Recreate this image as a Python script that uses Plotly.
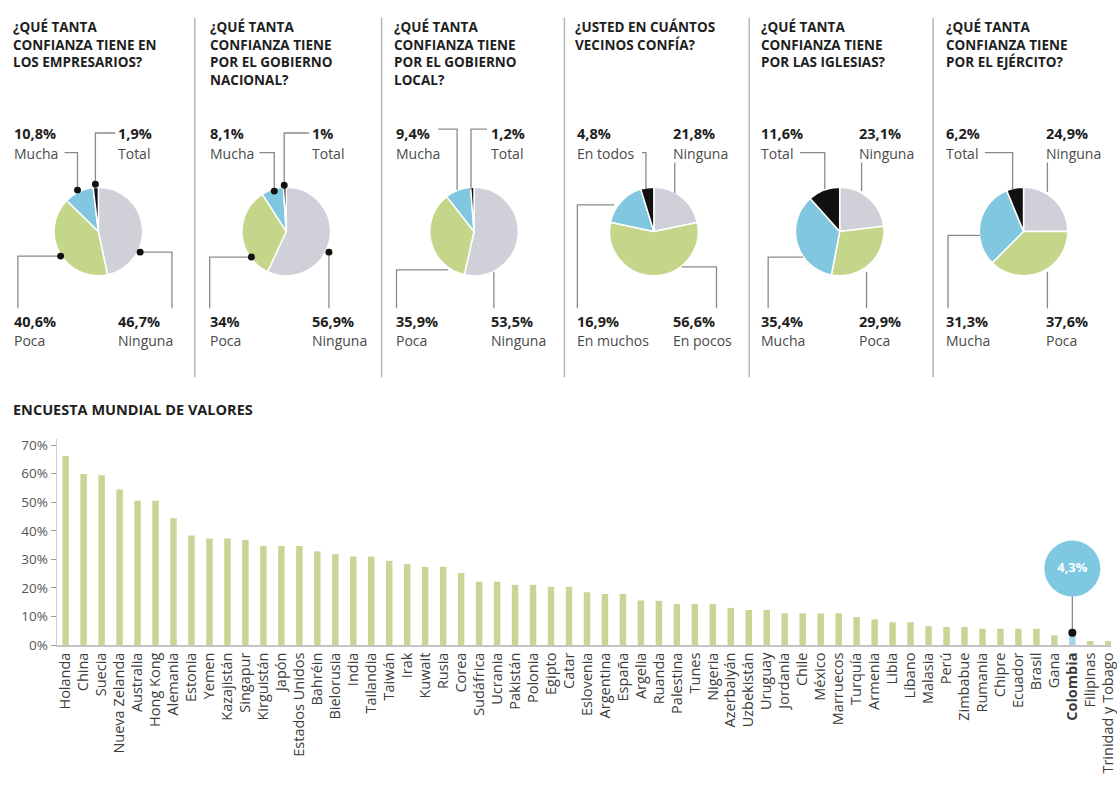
import plotly.graph_objects as go

W, H = 1117, 787

# ---------------- DATA ----------------
pie_titles = [
    ["¿QUÉ TANTA", "CONFIANZA TIENE EN", "LOS EMPRESARIOS?"],
    ["¿QUÉ TANTA", "CONFIANZA TIENE", "POR EL GOBIERNO", "NACIONAL?"],
    ["¿QUÉ TANTA", "CONFIANZA TIENE", "POR EL GOBIERNO", "LOCAL?"],
    ["¿USTED EN CUÁNTOS", "VECINOS CONFÍA?"],
    ["¿QUÉ TANTA", "CONFIANZA TIENE", "POR LAS IGLESIAS?"],
    ["¿QUÉ TANTA", "CONFIANZA TIENE", "POR EL EJÉRCITO?"],
]
confianza_labels = ["Ninguna", "Poca", "Mucha", "Total"]
vecinos_labels = ["Ninguna", "En pocos", "En muchos", "En todos"]

empresarios = [46.7, 40.6, 10.8, 1.9]
gobierno_nacional = [56.9, 34.0, 8.1, 1.0]
gobierno_local = [53.5, 35.9, 9.4, 1.2]
vecinos = [21.8, 56.6, 16.9, 4.8]
iglesias = [23.1, 29.9, 35.4, 11.6]
ejercito = [24.9, 37.6, 31.3, 6.2]

pie_values = [empresarios, gobierno_nacional, gobierno_local, vecinos, iglesias, ejercito]
pie_labels = [confianza_labels, confianza_labels, confianza_labels, vecinos_labels,
              confianza_labels, confianza_labels]

bar_title = "ENCUESTA MUNDIAL DE VALORES"
countries = ["Holanda", "China", "Suecia", "Nueva Zelanda", "Australia", "Hong Kong", "Alemania",
             "Estonia", "Yemen", "Kazajistán", "Singapur", "Kirguistán", "Japón", "Estados Unidos",
             "Bahréin", "Bielorusia", "India", "Tailandia", "Taiwán", "Irak", "Kuwait", "Rusia",
             "Corea", "Sudáfrica", "Ucrania", "Pakistán", "Polonia", "Egipto", "Catar", "Eslovenia",
             "Argentina", "España", "Argelia", "Ruanda", "Palestina", "Tunes", "Nigeria",
             "Azerbaiyán", "Uzbekistán", "Uruguay", "Jordania", "Chile", "México", "Marruecos",
             "Turquía", "Armenia", "Libia", "Líbano", "Malasia", "Perú", "Zimbabue", "Rumania",
             "Chipre", "Ecuador", "Brasil", "Gana", "Colombia", "Filipinas", "Trinidad y Tobago"]
trust_pct = [66.2, 59.9, 59.5, 54.5, 50.5, 50.5, 44.4,
             38.4, 37.3, 37.3, 36.8, 34.7, 34.7, 34.7,
             32.8, 31.8, 31.0, 31.0, 29.5, 28.4, 27.4, 27.4,
             25.2, 22.2, 22.2, 21.1, 21.1, 20.4, 20.4, 18.5,
             17.9, 17.9, 15.6, 15.5, 14.4, 14.4, 14.4,
             13.0, 12.3, 12.3, 11.1, 11.1, 11.1, 11.1,
             9.8, 9.0, 8.0, 8.0, 6.6, 6.3, 6.3, 5.7,
             5.7, 5.7, 5.7, 3.4, 4.3, 1.4, 1.4]
highlight = "Colombia"
yticks = [0, 10, 20, 30, 40, 50, 60, 70]
ytick_text = ["0%", "10%", "20%", "30%", "40%", "50%", "60%", "70%"]

# ---------------- STYLE / LAYOUT ----------------
slice_colors = ["#cfd0d8", "#c4d68a", "#82c7e0", "#111111"]
bar_color = "#c8d596"
hl_bar_color = "#a9d4e8"
bubble_color = "#7fc8e2"
FONT = "Open Sans"


def fmt(v):
    s = f"{v:.1f}".replace(".", ",")
    if s.endswith(",0"):
        s = s[:-2]
    return s + "%"


def xp(px):
    return px / W


def yp(py):
    return 1 - py / H


pie_cx = [98, 287, 476, 657, 844, 1029]
pie_cy = 232
pie_r = 45
title_x = [10, 208, 393, 576, 763, 949]
separators = [195, 383, 567, 753, 938]

# label placements: (slice index, text x, row) row 0 = top, 1 = bottom
label_specs = [
    [(2, 11, 0), (3, 116, 0), (1, 11, 1), (0, 116, 1)],
    [(2, 208, 0), (3, 311, 0), (1, 208, 1), (0, 311, 1)],
    [(2, 395, 0), (3, 491, 0), (1, 395, 1), (0, 491, 1)],
    [(3, 578, 0), (0, 674, 0), (2, 578, 1), (1, 674, 1)],
    [(3, 763, 0), (0, 861, 0), (2, 763, 1), (1, 861, 1)],
    [(3, 949, 0), (0, 1050, 0), (2, 949, 1), (1, 1050, 1)],
]
leaders = [
    [[(64, 152), (77, 152), (77, 190)], [(115, 132), (95, 132), (95, 184)],
     [(60, 257), (17, 257), (17, 310)], [(140, 253), (172, 253), (172, 310)]],
    [[(260, 152), (275, 152), (275, 191)], [(310, 132), (285, 132), (285, 185)],
     [(252, 258), (210, 258), (210, 310)], [(330, 253), (330, 310)]],
    [[(440, 128), (459, 128), (459, 190)], [(489, 128), (473, 128), (473, 190)],
     [(450, 271), (398, 271), (398, 310)], [(496, 273), (496, 310)]],
    [[(645, 152), (649, 152), (649, 189)], [(678, 162), (678, 193)],
     [(617, 205), (580, 205), (580, 310)], [(685, 268), (720, 268), (720, 310)]],
    [[(804, 152), (829, 152), (829, 189)], [(866, 162), (866, 191)],
     [(807, 258), (772, 258), (772, 310)], [(871, 273), (871, 310)]],
    [[(990, 152), (1018, 152), (1018, 190)], [(1053, 162), (1053, 192)],
     [(985, 236), (953, 236), (953, 310)], [(1053, 273), (1053, 310)]],
]
dot_pies = [0, 1]

fig = go.Figure()
annotations = []
shapes = []

# ---------- pies ----------
for i, vals in enumerate(pie_values):
    cx = pie_cx[i]
    fig.add_trace(go.Pie(
        values=vals, labels=pie_labels[i], sort=False, direction="clockwise", rotation=0,
        marker=dict(colors=slice_colors, line=dict(color="white", width=1.5)),
        textinfo="none", hoverinfo="label+value", showlegend=False,
        domain=dict(x=[xp(cx - pie_r), xp(cx + pie_r)],
                    y=[yp(pie_cy + pie_r), yp(pie_cy - pie_r)]),
    ))
    # title
    annotations.append(dict(
        text="<b>" + "<br>".join(pie_titles[i]) + "</b>", x=xp(title_x[i]), y=yp(13),
        xref="paper", yref="paper", xanchor="left", yanchor="top", align="left",
        showarrow=False, font=dict(family=FONT, size=13.5, color="#1e1e1e")))
    # labels
    for (k, tx, row) in label_specs[i]:
        y1 = 133 if row == 0 else 323
        annotations.append(dict(
            text=f"<b>{fmt(vals[k])}</b>", x=xp(tx), y=yp(y1), xref="paper", yref="paper",
            xanchor="left", yanchor="middle", showarrow=False,
            font=dict(family=FONT, size=14.5, color="#1e1e1e")))
        annotations.append(dict(
            text=pie_labels[i][k], x=xp(tx), y=yp(y1 + 20), xref="paper", yref="paper",
            xanchor="left", yanchor="middle", showarrow=False,
            font=dict(family=FONT, size=14, color="#4a4a4a")))
    # leader lines
    for path in leaders[i]:
        d = "M " + " L ".join(f"{xp(x)},{yp(y)}" for x, y in path)
        shapes.append(dict(type="path", path=d, xref="paper", yref="paper",
                           line=dict(color="#8a8a8a", width=1.3)))
        if i in dot_pies:
            ex, ey = path[-1] if path[-1][1] < 200 else path[0]
            shapes.append(dict(type="circle", xref="paper", yref="paper",
                               x0=xp(ex - 3.5), x1=xp(ex + 3.5), y0=yp(ey + 3.5), y1=yp(ey - 3.5),
                               fillcolor="#111", line=dict(width=0)))

# separators
for sx in separators:
    shapes.append(dict(type="line", xref="paper", yref="paper",
                       x0=xp(sx), x1=xp(sx), y0=yp(15), y1=yp(380),
                       line=dict(color="#b5b5b5", width=1.5)))

# ---------- bar chart ----------
bar_colors = [hl_bar_color if c == highlight else bar_color for c in countries]
fig.add_trace(go.Bar(
    x=countries, y=trust_pct, marker=dict(color=bar_colors, line=dict(width=0)),
    width=0.36, showlegend=False, hovertemplate="%{x}: %{y}%<extra></extra>"))

hl_val = trust_pct[countries.index(highlight)]
bubble_offset = 22.5
fig.add_trace(go.Scatter(
    x=[highlight, highlight], y=[hl_val, hl_val + bubble_offset], mode="lines",
    line=dict(color="#8a8a8a", width=1.3), showlegend=False, hoverinfo="skip"))
fig.add_trace(go.Scatter(
    x=[highlight], y=[hl_val], mode="markers",
    marker=dict(color="#111", size=8), showlegend=False, hoverinfo="skip"))
fig.add_trace(go.Scatter(
    x=[highlight], y=[hl_val + bubble_offset], mode="markers+text",
    marker=dict(color=bubble_color, size=56, line=dict(width=0)),
    text=[f"<b>{fmt(hl_val)}</b>"], textposition="middle center",
    textfont=dict(family=FONT, size=13, color="white"), showlegend=False, hoverinfo="skip"))

annotations.append(dict(
    text=f"<b>{bar_title}</b>", x=xp(10), y=yp(413), xref="paper", yref="paper",
    xanchor="left", yanchor="middle", showarrow=False,
    font=dict(family=FONT, size=14.5, color="#1e1e1e")))

ticktext = [f"<b>{c}</b>" if c == highlight else c for c in countries]

fig.update_layout(
    width=W, height=H, margin=dict(l=0, r=0, t=0, b=0),
    paper_bgcolor="white", plot_bgcolor="white",
    font=dict(family=FONT, color="#444"),
    annotations=annotations, shapes=shapes, bargap=0.6,
    xaxis=dict(domain=[xp(56), 1], range=[-0.5, 58.15], type="category",
               categoryorder="array", categoryarray=countries,
               tickmode="array", tickvals=countries, ticktext=ticktext,
               tickangle=-90, tickfont=dict(family=FONT, size=14.5, color="#3c3c3c"),
               showline=True, linecolor="#c4c4c4", linewidth=1.5, ticks="",
               showgrid=False, zeroline=False, fixedrange=True),
    yaxis=dict(domain=[yp(652), yp(443.2)], range=[0, 72],
               tickmode="array", tickvals=yticks, ticktext=ytick_text,
               tickfont=dict(family=FONT, size=13.5, color="#555"),
               showline=True, linecolor="#c9cde0", linewidth=1, ticks="outside", ticklen=5,
               tickcolor="#9a9a9a", showgrid=False, zeroline=False, fixedrange=True),
)

fig.write_html("out.html", config={"displayModeBar": False})
with open("out.html", encoding="utf-8") as f:
    html = f.read()
html = html.replace("<body>", '<body style="margin:0;padding:0;overflow:hidden">', 1)
with open("out.html", "w", encoding="utf-8") as f:
    f.write(html)
